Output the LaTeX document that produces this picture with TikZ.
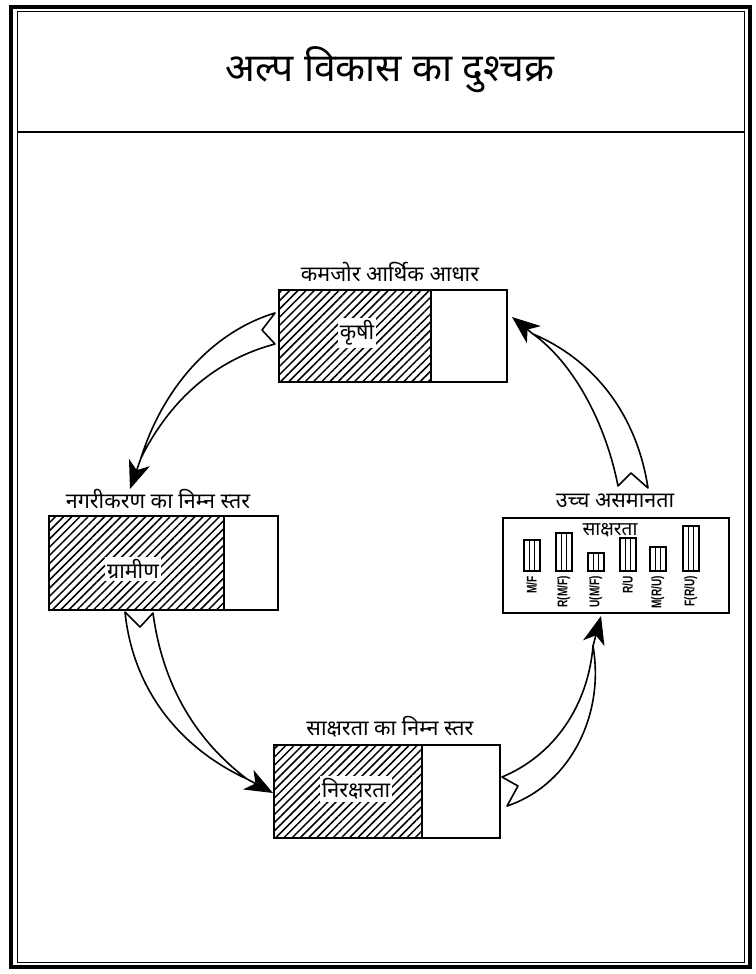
\documentclass[tikz,border=0pt]{standalone}
\usepackage{fontspec}
\setmainfont{Liberation Sans}
\newfontfamily\dev[Script=Devanagari]{Noto Sans}
\usetikzlibrary{patterns.meta,arrows.meta,calc}
\begin{document}
\begin{tikzpicture}[x=1pt,y=-1pt,
  hatched/.style={draw,line width=1.8pt,pattern={Lines[angle=45,distance=5.8pt,line width=1.5pt]},inner sep=0pt},
  plainbox/.style={draw,line width=1.8pt,fill=white,inner sep=0pt},
  ribbon/.style={draw,fill=white,line width=1.6pt,line join=round},
  head/.style={-{Stealth[length=28pt,width=22pt,inset=8pt]},line width=1.6pt},
  lab/.style={font=\dev\fontsize{21.5}{24}\selectfont,inner sep=1pt},
  inlab/.style={lab,fill=white,inner sep=2pt},
  bar/.style={draw,line width=1.6pt,fill=white},
  barlab/.style={font=\bfseries\fontsize{14}{15}\selectfont,rotate=90,anchor=east,inner sep=0pt}]
\useasboundingbox (0,0) rectangle (755,974);
% frame
\draw[line width=4pt] (11,7) rectangle (750,967);
\draw[line width=1pt] (17,12) rectangle (744,962);
\draw[line width=2pt] (17,132) -- (744,132);
\node[font=\dev\fontsize{39}{44}\selectfont] (title) at (390,70) {अल्प विकास का दुश्चक्र};
% box 1
\node[hatched,minimum width=152pt,minimum height=92pt,anchor=north west] (k1) at (278,289) {};
\node[plainbox,minimum width=76pt,minimum height=92pt,anchor=north west] (k1w) at (430,289) {};
\node[lab] (l1) at (390,272) {कमजोर आर्थिक आधार};
\node[inlab] (t1) at (357,333) {कृषी};
% box 2
\node[hatched,minimum width=175pt,minimum height=94pt,anchor=north west] (k2) at (48,515) {};
\node[plainbox,minimum width=54pt,minimum height=94pt,anchor=north west] (k2w) at (223,515) {};
\node[lab] (l2) at (158,499) {नगरीकरण का निम्न स्तर};
\node[inlab] (t2) at (133,569) {ग्रामीण};
% box 3
\node[hatched,minimum width=148pt,minimum height=93pt,anchor=north west] (k3) at (273,744) {};
\node[plainbox,minimum width=78pt,minimum height=93pt,anchor=north west] (k3w) at (421,744) {};
\node[lab] (l3) at (390,727) {साक्षरता का निम्न स्तर};
\node[inlab] (t3) at (356,789) {निरक्षरता};
% box 4 chart
\node[plainbox,minimum width=226pt,minimum height=95pt,anchor=north west] (k4) at (502,517) {};
\node[lab] (l4) at (615,501) {उच्च असमानता};
\node[font=\dev\fontsize{19}{21}\selectfont,inner sep=0pt] (t4) at (610,530) {साक्षरता};
\foreach \x/\top/\txt [count=\i] in {523/541/M\slash F,555/534/R(M\slash F),587/554/U(M\slash F),619/539/R\slash U,649/548/M(R\slash U),682/527/F(R\slash U)}{
  \node[bar,minimum width=16pt,minimum height={(572-\top)*1pt},anchor=south west,inner sep=0pt] (b\i) at (\x,572) {};
  \draw[line width=1.1pt] ($(b\i.south west)!0.36!(b\i.south east)$) -- ($(b\i.north west)!0.36!(b\i.north east)$);
  \draw[line width=1.1pt] ($(b\i.south west)!0.64!(b\i.south east)$) -- ($(b\i.north west)!0.64!(b\i.north east)$);
  \node[barlab] (bl\i) at ($(b\i.south)+(0,4)$) {\scalebox{0.72}[1]{\txt}};
}
% arrow A
\coordinate (a1) at (275,313); \coordinate (an) at (262,330); \coordinate (a2) at (275,344);
\coordinate (ac) at (141,458); \coordinate (at) at (130,489);
\draw[ribbon] (a1) .. controls (212,332) and (163,388) .. (ac) .. controls (170,400) and (215,360) .. (a2) -- (an) -- cycle;
\draw[head] (ac) -- (at);
% arrow B
\coordinate (b1) at (125,612); \coordinate (bn) at (140,627); \coordinate (b2) at (153,613);
\coordinate (bc) at (247,779); \coordinate (bt) at (273,793);
\draw[ribbon] (b1) .. controls (133,690) and (180,748) .. (bc) .. controls (198,742) and (163,688) .. (b2) -- (bn) -- cycle;
\draw[head] (bc) -- (bt);
% arrow C
\coordinate (c1) at (502,777); \coordinate (cn) at (518,786); \coordinate (c2) at (507,806);
\coordinate (cc) at (593,646); \coordinate (ct) at (601,616);
\draw[ribbon] (c1) .. controls (555,755) and (588,705) .. (cc) .. controls (605,715) and (570,785) .. (c2) -- (cn) -- cycle;
\draw[head] (cc) -- (ct);
% arrow D
\coordinate (d1) at (618,486); \coordinate (dn) at (631,473); \coordinate (d2) at (648,488);
\coordinate (dc) at (533,334); \coordinate (dt) at (512,317);
\draw[ribbon] (d1) .. controls (605,420) and (572,362) .. (dc) .. controls (590,358) and (636,410) .. (d2) -- (dn) -- cycle;
\draw[head] (dc) -- (dt);
\end{tikzpicture}
\end{document}
